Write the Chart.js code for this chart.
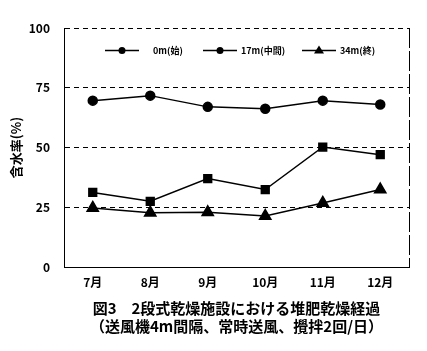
<!DOCTYPE html>
<html>
<head>
<meta charset="utf-8">
<script src="https://cdn.jsdelivr.net/npm/chart.js@4"></script>
<style>
html,body{margin:0;padding:0;background:#fff;}
#wrap{width:427px;height:351px;}
</style>
</head>
<body>
<div id="wrap"><canvas id="c" width="427" height="351"></canvas></div>
<script>
const months = ['7月','8月','9月','10月','11月','12月'];
const seriesNames = ['0m(始)','17m(中間)','34m(終)'];
const start0m = [69.6, 71.7, 67.0, 66.2, 69.6, 68.0];
const mid17m = [31.2, 27.5, 37.0, 32.4, 50.2, 47.0];
const end34m = [24.7, 22.7, 22.9, 21.3, 26.8, 32.4];
const yTicks = [0, 25, 50, 75, 100];
const captionLines = ['図3　2段式乾燥施設における堆肥乾燥経過', '（送風機4m間隔、常時送風、攪拌2回/日）'];

const FONT = "'Noto Sans CJK JP', 'Noto Sans', sans-serif";

const frameAndLegend = {
  id: 'frameAndLegend',
  afterDraw(chart) {
    const ctx = chart.ctx;
    const a = chart.chartArea;
    ctx.save();
    // right border
    ctx.strokeStyle = '#000';
    ctx.lineWidth = 1;
    ctx.setLineDash([20, 3]);
    ctx.beginPath();
    ctx.moveTo(a.right + 0.5, a.top);
    ctx.lineTo(a.right + 0.5, a.bottom);
    ctx.stroke();
    ctx.setLineDash([]);
    // legend
    const items = [
      {x: 105, tx: 153},
      {x: 203, tx: 241},
      {x: 302, tx: 340}
    ];
    const y = 50.5;
    chart.data.datasets.forEach((ds, i) => {
      const it = items[i];
      ctx.strokeStyle = '#000';
      ctx.lineWidth = 1.5;
      ctx.beginPath();
      ctx.moveTo(it.x, y);
      ctx.lineTo(it.x + 34, y);
      ctx.stroke();
      ctx.fillStyle = '#000';
      const cx = it.x + 17;
      if (ds.pointStyle === 'triangle') {
        ctx.beginPath();
        ctx.moveTo(cx, y - 5);
        ctx.lineTo(cx + 5, y + 3);
        ctx.lineTo(cx - 5, y + 3);
        ctx.closePath();
        ctx.fill();
      } else {
        ctx.beginPath();
        ctx.arc(cx, y, 3.5, 0, Math.PI * 2);
        ctx.fill();
      }
      ctx.font = "bold 9px " + FONT;
      ctx.textBaseline = 'middle';
      ctx.textAlign = 'left';
      ctx.fillText(ds.label, it.tx, y);
    });
    ctx.restore();
  }
};

new Chart(document.getElementById('c'), {
  type: 'line',
  data: {
    labels: months,
    datasets: [
      {label: seriesNames[0], data: start0m, pointStyle: 'circle', pointRadius: 4.5},
      {label: seriesNames[1], data: mid17m, pointStyle: 'rect', pointRadius: 5.5},
      {label: seriesNames[2], data: end34m, pointStyle: 'triangle', pointRadius: 6.5}
    ].map(d => Object.assign({
      borderColor: '#000',
      backgroundColor: '#000',
      pointBackgroundColor: '#000',
      pointBorderColor: '#000',
      borderWidth: 1.5,
      tension: 0,
      fill: false
    }, d))
  },
  options: {
    responsive: false,
    animation: false,
    devicePixelRatio: 1,
    layout: {padding: {top: 28, right: 18, bottom: 16, left: 8}},
    plugins: {
      legend: {display: false},
      tooltip: {enabled: false},
      title: {
        display: true,
        position: 'bottom',
        fullSize: false,
        text: captionLines,
        color: '#000',
        font: {family: FONT, size: 15, weight: 'bold', lineHeight: 1.2},
        padding: {top: 6, bottom: 0}
      }
    },
    scales: {
      x: {
        type: 'category',
        offset: true,
        grid: {display: false, drawTicks: false},
        border: {display: true, color: '#000', width: 1},
        ticks: {color: '#000', font: {family: FONT, size: 12, weight: 'bold'}, padding: 8, maxRotation: 0},
        afterFit(s) { s.height = 26; }
      },
      y: {
        min: 0, max: 100,
        afterBuildTicks(s) { s.ticks = yTicks.map(v => ({value: v})); },
        grid: {color: '#000', lineWidth: 1, drawTicks: false},
        border: {display: true, color: '#000', width: 1, dash: [5, 4]},
        ticks: {color: '#000', font: {family: FONT, size: 12, weight: 'bold'}, padding: 14},
        title: {display: true, text: '含水率(%)', color: '#000', font: {family: FONT, size: 13, weight: 'bold'}, padding: {top: 0, bottom: 4}},
        afterFit(s) { s.width = 56; }
      }
    }
  },
  plugins: [frameAndLegend]
});
</script>
</body>
</html>
